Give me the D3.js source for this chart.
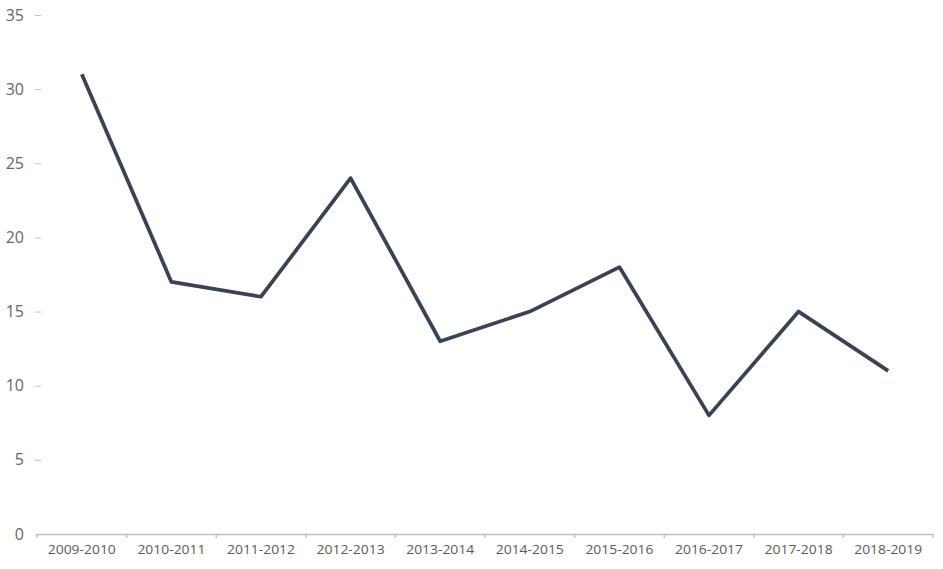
<!DOCTYPE html>
<html>
<head>
<meta charset="utf-8">
<script src="https://cdn.jsdelivr.net/npm/d3@7"></script>
<style>
  body { margin: 0; background: #fff; }
  svg text { font-family: "Open Sans", "Noto Sans", sans-serif; }
</style>
</head>
<body>
<div id="chart"></div>
<script>
// Season labels and the values
const seasons = ['2009-2010', '2010-2011', '2011-2012', '2012-2013', '2013-2014',
                 '2014-2015', '2015-2016', '2016-2017', '2017-2018', '2018-2019'];
const values = [31, 17, 16, 24, 13, 15, 18, 8, 15, 11];
const yTicks = [0, 5, 10, 15, 20, 25, 30, 35];

const width = 943;
const height = 569;
const margin = { top: 15, right: 10, bottom: 35, left: 37 };

const svg = d3.select('#chart').append('svg')
    .attr('width', width)
    .attr('height', height);

const x = d3.scaleBand()
    .domain(seasons)
    .range([margin.left, width - margin.right]);

const y = d3.scaleLinear()
    .domain([0, 35])
    .range([height - margin.bottom, margin.top]);

// y axis: only short dashes and labels, no line
const yAxis = svg.append('g')
    .attr('transform', `translate(${margin.left},0)`)
    .call(d3.axisLeft(y).tickValues(yTicks).tickSize(0).tickPadding(13));
yAxis.select('.domain').remove();
yAxis.selectAll('text')
    .style('font-size', '16px')
    .style('fill', '#666');
yAxis.selectAll('.tick').append('line')
    .attr('x1', -2).attr('x2', 4)
    .attr('stroke', '#bfbfbf');

// x axis: grey baseline, ticks at band edges
const xAxis = svg.append('g')
    .attr('transform', `translate(0,${y(0)})`)
    .call(d3.axisBottom(x).tickSize(0).tickPadding(11));
xAxis.select('.domain')
    .attr('stroke', '#bfbfbf')
    .attr('stroke-width', 1.5);
xAxis.selectAll('text')
    .style('font-size', '12.5px')
    .style('fill', '#595959')
    .attr('textLength', 68)
    .attr('lengthAdjust', 'spacingAndGlyphs');

const edges = seasons.map(s => x(s)).concat([x.range()[1]]);
xAxis.selectAll('.edge')
    .data(edges)
    .enter().append('line')
    .attr('class', 'edge')
    .attr('x1', d => d).attr('x2', d => d)
    .attr('y1', 0).attr('y2', 4)
    .attr('stroke', '#bfbfbf')
    .attr('stroke-width', 1.5);

// the line itself
const line = d3.line()
    .x((d, i) => x(seasons[i]) + x.bandwidth() / 2)
    .y(d => y(d));

svg.append('path')
    .datum(values)
    .attr('d', line)
    .attr('fill', 'none')
    .attr('stroke', '#3a4352')
    .attr('stroke-width', 3.75)
    .attr('stroke-linejoin', 'round');
</script>
</body>
</html>
